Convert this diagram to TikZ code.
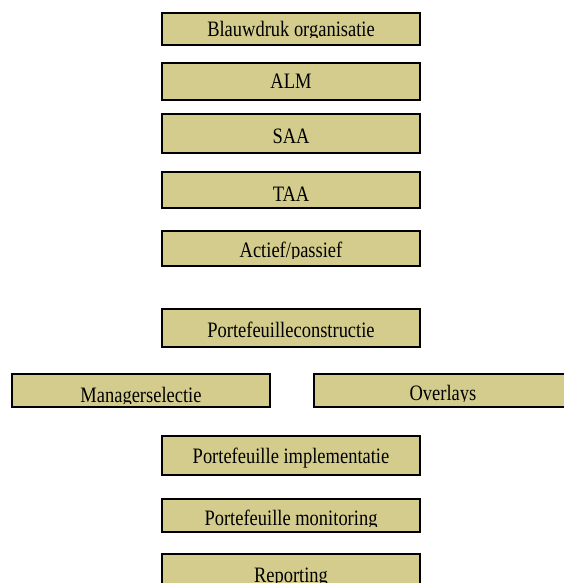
\documentclass[tikz,border=0pt]{standalone}
\usepackage{fontspec}
\setmainfont{Liberation Serif}[FakeStretch=0.84]
\definecolor{kaki}{RGB}{211,204,141}
\begin{document}
\begin{tikzpicture}[x=1pt,y=-1pt,
  blok/.style n args={3}{draw, line width=1.6pt, fill=kaki, minimum width=258pt, inner sep=0pt,
    path picture={\clip ([yshift=#2]path picture bounding box.south west) rectangle (path picture bounding box.north east);
      \node[anchor=base, inner sep=0pt, font=\fontsize{22}{24}\selectfont]
      at ([yshift=#1]path picture bounding box.south) {#3};}}]
\useasboundingbox (0,0) rectangle (563,583);
\node[blok={8pt}{7pt}{Blauwdruk organisatie}, minimum height=32pt] (blauwdruk) at (291,29) {};
\node[blok={11pt}{0pt}{ALM}, minimum height=37pt] (alm) at (291,81.5) {};
\node[blok={10pt}{0pt}{SAA}, minimum height=39pt] (saa) at (291,133.5) {};
\node[blok={7pt}{0pt}{TAA}, minimum height=36pt] (taa) at (291,190) {};
\node[blok={9pt}{8pt}{Actief/passief}, minimum height=35pt] (actief) at (291,248.5) {};
\node[blok={10pt}{0pt}{Portefeuilleconstructie}, minimum height=38pt] (constructie) at (291,328) {};
\node[blok={5pt}{4pt}{Managerselectie}, minimum height=33pt] (manager) at (141,390.5) {};
\node[blok={7pt}{6pt}{Overlays}, minimum height=33pt] (overlays) at (443,390.5) {};
\node[blok={12pt}{0pt}{Portefeuille implementatie}, minimum height=39pt] (implementatie) at (291,455.5) {};
\node[blok={7pt}{6pt}{Portefeuille monitoring}, minimum height=33pt] (monitoring) at (291,515.5) {};
\node[blok={18pt}{0pt}{Reporting}, minimum height=46pt] (reporting) at (291,577) {};
\end{tikzpicture}
\end{document}
